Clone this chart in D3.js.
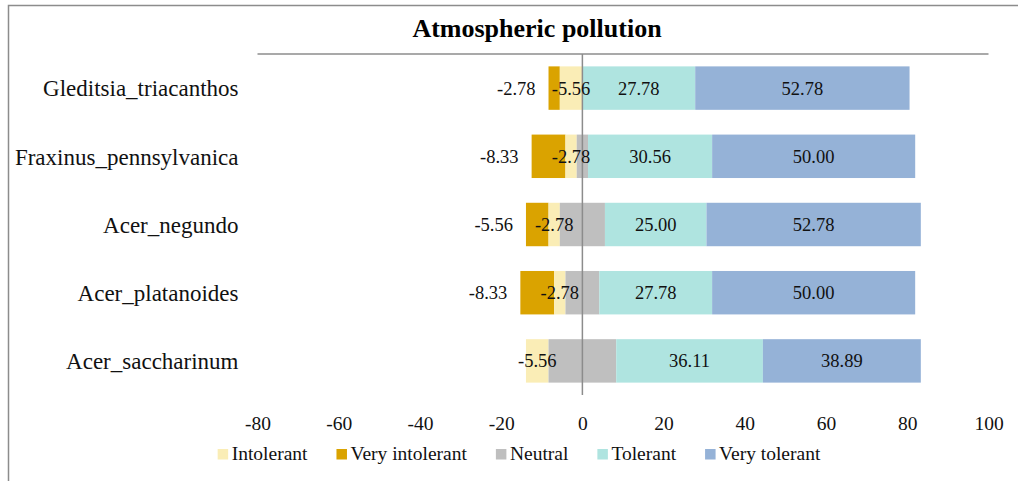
<!DOCTYPE html>
<html>
<head>
<meta charset="utf-8">
<script src="https://cdn.jsdelivr.net/npm/d3@7/dist/d3.min.js"></script>
<style>
  html, body { margin: 0; padding: 0; background: #fff; }
  svg { display: block; }
  svg text { font-family: "Liberation Serif", "Times New Roman", Times, serif; }
</style>
</head>
<body>
<svg id="chart" width="1018" height="481"></svg>
<script>
// Tree species tolerance to atmospheric pollution (% of responses)
const categories = ["Gleditsia_triacanthos", "Fraxinus_pennsylvanica", "Acer_negundo", "Acer_platanoides", "Acer_saccharinum"];
const veryIntolerant = [2.78, 8.33, 5.56, 8.33, 0];
const intolerant     = [5.56, 2.78, 2.78, 2.78, 5.56];
const neutral        = [0, 2.78, 11.11, 8.33, 16.67];
const tolerant       = [27.78, 30.56, 25.00, 27.78, 36.11];
const veryTolerant   = [52.78, 50.00, 52.78, 50.00, 38.89];
const tickValues     = [-80, -60, -40, -20, 0, 20, 40, 60, 80, 100];
const legendNames    = ["Intolerant", "Very intolerant", "Neutral", "Tolerant", "Very tolerant"];

const colors = {
  "Intolerant": "#FAEDB6",
  "Very intolerant": "#DAA300",
  "Neutral": "#BFBFBF",
  "Tolerant": "#AFE4E0",
  "Very tolerant": "#95B2D7"
};
const serif = "'Liberation Serif', 'Times New Roman', Times, serif";

const svg = d3.select("#chart");
const W = 1018, H = 481;

// Chart frame (top and left edges visible)
svg.append("path")
  .attr("d", `M8.5,${H} L8.5,5.5 L${W},5.5`)
  .attr("fill", "none").attr("stroke", "#8C8C8C").attr("stroke-width", 1.5);

const x = d3.scaleLinear().domain([-80, 100]).range([257.5, 988.5]);
const y = d3.scaleBand().domain(categories).range([54, 395])
  .paddingInner(0.363).paddingOuter(0.1815);

// Build diverging segments: negatives stack leftwards from the half-neutral edge
const segments = [];
categories.forEach((c, i) => {
  const n = neutral[i] / 2;
  const leftInt = -n - intolerant[i];
  const leftVery = leftInt - veryIntolerant[i];
  segments.push({ cat: c, key: "Very intolerant", x0: leftVery, x1: leftInt, v: veryIntolerant[i] });
  segments.push({ cat: c, key: "Intolerant", x0: leftInt, x1: -n, v: intolerant[i] });
  segments.push({ cat: c, key: "Neutral", x0: -n, x1: n, v: neutral[i] });
  segments.push({ cat: c, key: "Tolerant", x0: n, x1: n + tolerant[i], v: tolerant[i] });
  segments.push({ cat: c, key: "Very tolerant", x0: n + tolerant[i], x1: n + tolerant[i] + veryTolerant[i], v: veryTolerant[i] });
});

svg.append("g").selectAll("rect")
  .data(segments.filter(d => d.v > 0))
  .join("rect")
  .attr("x", d => x(d.x0))
  .attr("width", d => x(d.x1) - x(d.x0))
  .attr("y", d => y(d.cat))
  .attr("height", y.bandwidth())
  .attr("fill", d => colors[d.key]);

// Top axis line and zero line
svg.append("line")
  .attr("x1", 257.5).attr("x2", 988.5).attr("y1", 54).attr("y2", 54)
  .attr("stroke", "#8C8C8C").attr("stroke-width", 1.5);
svg.append("line")
  .attr("x1", x(0)).attr("x2", x(0)).attr("y1", 54).attr("y2", 395)
  .attr("stroke", "#8C8C8C").attr("stroke-width", 1.5);

// Data labels
const labels = svg.append("g");
segments.filter(d => d.v > 0 && d.key !== "Neutral").forEach(d => {
  const cy = y(d.cat) + y.bandwidth() / 2 + 6.5;
  const txt = (d.key === "Very intolerant" || d.key === "Intolerant") ? "-" + d.v.toFixed(2) : d.v.toFixed(2);
  const t = labels.append("text").attr("y", cy).text(txt)
    .style("font-family", serif).style("font-size", "18.5px").style("fill", "#111");
  if (d.key === "Very intolerant") {
    t.attr("x", x(d.x0) - 13).attr("text-anchor", "end");
  } else {
    t.attr("x", (x(d.x0) + x(d.x1)) / 2).attr("text-anchor", "middle");
  }
});

// Category labels
svg.append("g").selectAll("text")
  .data(categories)
  .join("text")
  .attr("x", 238.5)
  .attr("y", d => y(d) + y.bandwidth() / 2 + 8.3)
  .attr("text-anchor", "end")
  .style("font-family", serif).style("font-size", "23px").style("fill", "#111")
  .text(d => d);

// Bottom tick labels
const axis = svg.append("g").attr("transform", "translate(0,429.5)")
  .call(d3.axisBottom(x).tickValues(tickValues).tickSize(0).tickPadding(0).tickFormat(d => String(d)));
axis.select(".domain").remove();
axis.selectAll("text")
  .attr("y", 0).attr("dy", 0)
  .style("font-family", serif).style("font-size", "19.5px").style("fill", "#111");

// Title
svg.append("text")
  .attr("x", 537).attr("y", 36.5)
  .attr("text-anchor", "middle")
  .style("font-family", serif).style("font-size", "26px").style("font-weight", "bold").style("fill", "#000")
  .text("Atmospheric pollution");

// Legend
const legend = svg.append("g");
const items = legendNames.map(name => {
  const g = legend.append("g");
  g.append("rect").attr("width", 10.5).attr("height", 10.5).attr("y", -10.5).attr("fill", colors[name]);
  const t = g.append("text").attr("x", 14).attr("y", 0).text(name)
    .style("font-family", serif).style("font-size", "19.5px").style("fill", "#111");
  return { g, w: 14 + t.node().getComputedTextLength() };
});
const gap = 29;
const total = d3.sum(items, d => d.w) + gap * (items.length - 1);
let lx = 519 - total / 2;
items.forEach(it => {
  it.g.attr("transform", `translate(${lx},459.5)`);
  lx += it.w + gap;
});
</script>
</body>
</html>
